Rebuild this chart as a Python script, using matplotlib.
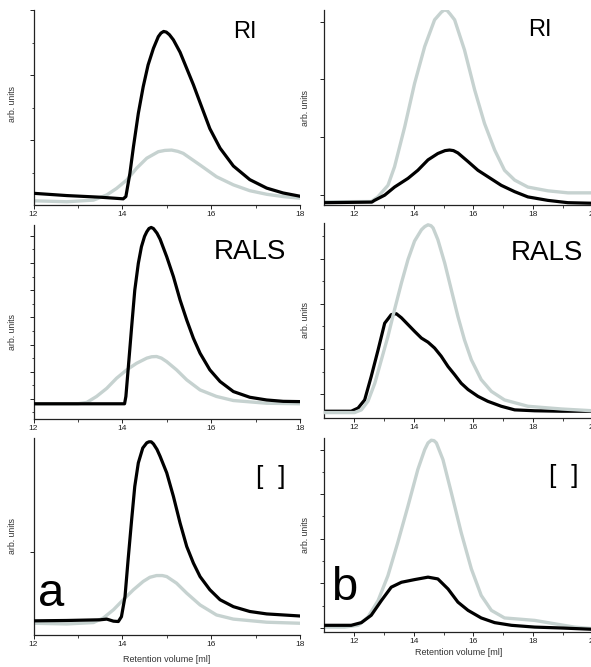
import matplotlib
import matplotlib.pyplot as plt
from matplotlib.ticker import FixedLocator, NullFormatter

matplotlib.use('agg')
plt.rcParams['font.family'] = ['Liberation Sans', 'DejaVu Sans']

BLACK = '#000000'
GREY = '#c6d2d0'

# ---------------------------------------------------------------- data
# panel a (left column), x in ml
ri_a_black_x = [12, 12.75, 13.5, 14.02, 14.08, 14.17, 14.25, 14.36, 14.47, 14.58, 14.7, 14.81,
                14.87, 14.93, 14.99, 15.06, 15.15, 15.3, 15.45, 15.6, 15.75, 15.97, 16.2, 16.5,
                16.87, 17.25, 17.62, 18]
ri_a_black_y = [0.36, 0.29, 0.24, 0.19, 0.26, 0.97, 1.79, 2.82, 3.64, 4.31, 4.82, 5.18,
                5.29, 5.34, 5.32, 5.24, 5.08, 4.7, 4.2, 3.7, 3.15, 2.35, 1.75, 1.2,
                0.78, 0.52, 0.37, 0.27]
ri_a_grey_x = [12, 12.75, 13.35, 13.65, 13.87, 14.1, 14.32, 14.55, 14.81, 14.96, 15.11, 15.25,
               15.37, 15.75, 16.12, 16.5, 16.87, 17.25, 17.62, 18]
ri_a_grey_y = [0.13, 0.1, 0.15, 0.31, 0.51, 0.77, 1.13, 1.44, 1.64, 1.68, 1.69, 1.65,
               1.59, 1.23, 0.87, 0.62, 0.44, 0.33, 0.26, 0.21]

rals_a_black_x = [12, 14.05, 14.08, 14.13, 14.21, 14.28, 14.36, 14.43, 14.5, 14.55, 14.6, 14.65,
                  14.7, 14.78, 14.85, 15.0, 15.15, 15.3, 15.45, 15.6, 15.75, 15.97, 16.2, 16.5,
                  16.87, 17.25, 17.62, 18]
rals_a_black_y = [-0.18, -0.18, 0.09, 1.07, 2.66, 4.0, 4.99, 5.6, 5.98, 6.15, 6.27, 6.31,
                  6.27, 6.1, 5.88, 5.23, 4.5, 3.64, 2.9, 2.23, 1.68, 1.07, 0.64, 0.27,
                  0.06, -0.04, -0.09, -0.1]
rals_a_grey_x = [12, 13.0, 13.2, 13.42, 13.65, 13.87, 14.1, 14.32, 14.55, 14.66, 14.77, 14.88,
                 15.0, 15.22, 15.45, 15.75, 16.12, 16.5, 17.25, 18]
rals_a_grey_y = [-0.18, -0.18, -0.13, 0.09, 0.39, 0.76, 1.07, 1.31, 1.5, 1.55, 1.56, 1.5,
                 1.37, 1.07, 0.7, 0.33, 0.09, -0.06, -0.16, -0.18]

conc_a_black_x = [12, 12.75, 13.5, 13.65, 13.8, 13.91, 13.98, 14.06, 14.13, 14.21, 14.28, 14.36,
                  14.46, 14.55, 14.6, 14.65, 14.7, 14.78, 14.85, 15.0, 15.15, 15.3, 15.45, 15.6,
                  15.75, 15.97, 16.2, 16.5, 16.87, 17.25, 18]
conc_a_black_y = [0.02, 0.03, 0.05, 0.07, 0.01, 0.0, 0.14, 0.72, 1.79, 2.95, 3.91, 4.59,
                  5.02, 5.17, 5.2, 5.2, 5.14, 4.98, 4.78, 4.3, 3.62, 2.85, 2.17, 1.69,
                  1.3, 0.92, 0.63, 0.43, 0.29, 0.22, 0.16]
conc_a_grey_x = [12, 12.75, 13.35, 13.57, 13.8, 14.02, 14.25, 14.47, 14.62, 14.77, 14.9, 15.0,
                 15.22, 15.45, 15.75, 16.12, 16.5, 17.25, 18]
conc_a_grey_y = [-0.05, -0.07, -0.03, 0.1, 0.34, 0.63, 0.92, 1.16, 1.28, 1.33, 1.33, 1.3,
                 1.11, 0.82, 0.48, 0.19, 0.07, -0.02, -0.05]

# panel b (right column)
ri_b_black_x = [11, 12.6, 12.69, 13.03, 13.36, 13.81, 14.14, 14.48, 14.81, 15.05, 15.2, 15.33,
                15.48, 15.82, 16.15, 16.48, 16.93, 17.38, 17.82, 18.49, 19.16, 20]
ri_b_black_y = [-0.13, -0.12, -0.09, 0.0, 0.14, 0.29, 0.43, 0.61, 0.72, 0.77, 0.78, 0.77,
                0.73, 0.58, 0.43, 0.32, 0.17, 0.06, -0.03, -0.09, -0.13, -0.14]
ri_b_grey_x = [11, 12.58, 12.8, 13.14, 13.36, 13.7, 14.03, 14.37, 14.7, 14.92, 15.02, 15.12,
               15.22, 15.37, 15.7, 16.04, 16.37, 16.71, 17.04, 17.38, 17.82, 18.49, 19.16, 20]
ri_b_grey_y = [-0.115, -0.11, -0.03, 0.17, 0.49, 1.18, 1.93, 2.57, 3.03, 3.16, 3.2, 3.19,
               3.13, 3.03, 2.51, 1.82, 1.24, 0.78, 0.43, 0.26, 0.14, 0.075, 0.04, 0.04]

rals_b_black_x = [11, 11.91, 12.14, 12.36, 12.58, 12.81, 13.03, 13.25, 13.42, 13.59, 13.81, 14.03,
                  14.26, 14.48, 14.7, 14.92, 15.15, 15.37, 15.59, 15.82, 16.15, 16.48, 16.93,
                  17.38, 18.05, 18.94, 20]
rals_b_black_y = [-0.38, -0.38, -0.31, -0.13, 0.39, 0.98, 1.57, 1.76, 1.78, 1.69, 1.54, 1.39,
                  1.24, 1.15, 1.02, 0.84, 0.61, 0.43, 0.24, 0.1, -0.05, -0.16, -0.27,
                  -0.35, -0.37, -0.38, -0.38]
rals_b_grey_x = [11, 12.02, 12.25, 12.47, 12.7, 12.92, 13.14, 13.36, 13.59, 13.81, 14.03, 14.26,
                 14.37, 14.48, 14.58, 14.65, 14.81, 15.04, 15.26, 15.48, 15.7, 15.93, 16.26,
                 16.6, 17.04, 17.82, 18.94, 20]
rals_b_grey_y = [-0.41, -0.41, -0.35, -0.16, 0.24, 0.76, 1.28, 1.87, 2.46, 2.98, 3.39, 3.64,
                 3.71, 3.75, 3.73, 3.68, 3.42, 2.9, 2.31, 1.72, 1.2, 0.76, 0.32,
                 0.06, -0.13, -0.27, -0.33, -0.37]

conc_b_black_x = [11, 11.91, 12.25, 12.58, 12.92, 13.25, 13.59, 14.03, 14.48, 14.81, 15.15, 15.48,
                  15.82, 16.26, 16.71, 17.27, 18.05, 18.94, 20]
conc_b_black_y = [0.12, 0.12, 0.24, 0.57, 1.23, 1.83, 2.05, 2.17, 2.28, 2.2, 1.75, 1.16,
                  0.79, 0.45, 0.24, 0.12, 0.04, 0.0, -0.06]
conc_b_grey_x = [11, 11.69, 12.14, 12.47, 12.81, 13.14, 13.47, 13.81, 14.14, 14.37, 14.48, 14.59,
                 14.68, 14.76, 14.98, 15.26, 15.59, 15.93, 16.26, 16.6, 17.04, 17.6, 18.05,
                 18.71, 19.38, 20]
conc_b_grey_y = [0.04, 0.04, 0.12, 0.49, 1.23, 2.35, 3.84, 5.47, 7.11, 8.0, 8.3, 8.42,
                 8.4, 8.3, 7.55, 6.07, 4.28, 2.65, 1.46, 0.79, 0.45, 0.39, 0.34,
                 0.19, 0.04, -0.03]

x_ticks_a = [12, 14, 16, 18]
x_ticks_b = [12, 14, 16, 18, 20]
panel_titles = ['RI', 'RALS', '[  ]']
panel_letters = ['a', 'b']

# ---------------------------------------------------------------- figure
W, H = 591, 667
fig = plt.figure(figsize=(W / 100, H / 100), dpi=100)


def make_axes(left, right, top, bottom):
    # pixel box -> figure fraction
    return fig.add_axes([left / W, 1 - bottom / H, (right - left) / W, (bottom - top) / H])


def px_text(x, y, s, size, va='center'):
    # place text by pixel position (from top-left of the picture)
    fig.text(x / W, 1 - y / H, s, fontsize=size, ha='center', va=va)


def style(ax, xlim, xticks, ylim, yticks, yminor):
    ax.set_xlim(*xlim)
    ax.set_ylim(*ylim)
    for s in ['top', 'right']:
        ax.spines[s].set_visible(False)
    for s in ['left', 'bottom']:
        ax.spines[s].set_linewidth(0.9)
        ax.spines[s].set_color('#222222')
    ax.xaxis.set_major_locator(FixedLocator(xticks))
    ax.xaxis.set_minor_locator(FixedLocator([t + 1 for t in xticks]))
    ax.yaxis.set_major_locator(FixedLocator(yticks))
    ax.yaxis.set_minor_locator(FixedLocator(yminor))
    ax.yaxis.set_major_formatter(NullFormatter())
    ax.tick_params(axis='both', which='major', length=3, width=0.7, labelsize=6, pad=1.5,
                   direction='out', colors='#222222')
    ax.tick_params(axis='both', which='minor', length=1.8, width=0.6, direction='out',
                   colors='#222222')
    ax.set_xticklabels([str(t) for t in xticks])
    ax.set_ylabel('arb. units', fontsize=6.3, color='#333333')


def draw(ax, bx, by, gx, gy, grey_on_top=False):
    zb, zg = (2, 3) if grey_on_top else (3, 2)
    ax.plot(gx, gy, color=GREY, lw=2.4, zorder=zg, solid_joinstyle='round')
    ax.plot(bx, by, color=BLACK, lw=2.3, zorder=zb, solid_joinstyle='round')


# left column
ax_tl = make_axes(33.5, 300, 10, 205)
style(ax_tl, (12, 18), x_ticks_a, (0, 6), [2, 4, 6], [1, 3, 5])
draw(ax_tl, ri_a_black_x, ri_a_black_y, ri_a_grey_x, ri_a_grey_y)
ax_tl.yaxis.set_label_coords(-0.062, 0.52)

ax_ml = make_axes(33.5, 300, 225, 419)
style(ax_ml, (12, 18), x_ticks_a, (-0.74, 6.4), [0, 1, 2, 3, 4, 5, 6],
      [-0.5, 0.5, 1.5, 2.5, 3.5, 4.5, 5.5])
draw(ax_ml, rals_a_black_x, rals_a_black_y, rals_a_grey_x, rals_a_grey_y)
ax_ml.yaxis.set_label_coords(-0.062, 0.45)

ax_bl = make_axes(33.5, 300, 438, 635)
style(ax_bl, (12, 18), x_ticks_a, (-0.39, 5.31), [2], [])
draw(ax_bl, conc_a_black_x, conc_a_black_y, conc_a_grey_x, conc_a_grey_y)
ax_bl.yaxis.set_label_coords(-0.062, 0.5)
ax_bl.set_xlabel('Retention volume [ml]', fontsize=6.5, color='#333333', labelpad=4.5)

# right column (runs a little past the right edge, as in the original)
ax_tr = make_axes(324, 593, 10, 205)
style(ax_tr, (11, 20), x_ticks_b, (-0.17, 3.2), [0, 1, 2, 3], [])
draw(ax_tr, ri_b_black_x, ri_b_black_y, ri_b_grey_x, ri_b_grey_y)
ax_tr.yaxis.set_label_coords(-0.052, 0.5)

ax_mr = make_axes(324, 593, 223, 418)
style(ax_mr, (11, 20), x_ticks_b, (-0.53, 3.79), [0, 1, 2, 3], [0.5, 1.5, 2.5, 3.5])
draw(ax_mr, rals_b_black_x, rals_b_black_y, rals_b_grey_x, rals_b_grey_y, grey_on_top=True)
ax_mr.yaxis.set_label_coords(-0.052, 0.5)

ax_br = make_axes(324, 593, 438, 632)
style(ax_br, (11, 20), x_ticks_b, (-0.18, 8.52), [0, 2, 4, 6, 8], [1, 3, 5, 7])
draw(ax_br, conc_b_black_x, conc_b_black_y, conc_b_grey_x, conc_b_grey_y)
ax_br.yaxis.set_label_coords(-0.052, 0.5)
ax_br.set_xlabel('Retention volume [ml]', fontsize=6.5, color='#333333', labelpad=2)

# panel labels, placed by pixel position
px_text(245, 31.5, panel_titles[0], 17)
px_text(540, 30, panel_titles[0], 17)
px_text(250, 252, panel_titles[1], 20)
px_text(546.5, 253, panel_titles[1], 20)
px_text(271, 477, panel_titles[2], 19)
px_text(564, 476.5, panel_titles[2], 19)
px_text(51, 606, panel_letters[0], 34, va='baseline')
px_text(344, 600, panel_letters[1], 34, va='baseline')

fig.savefig('out.png', dpi=100)
